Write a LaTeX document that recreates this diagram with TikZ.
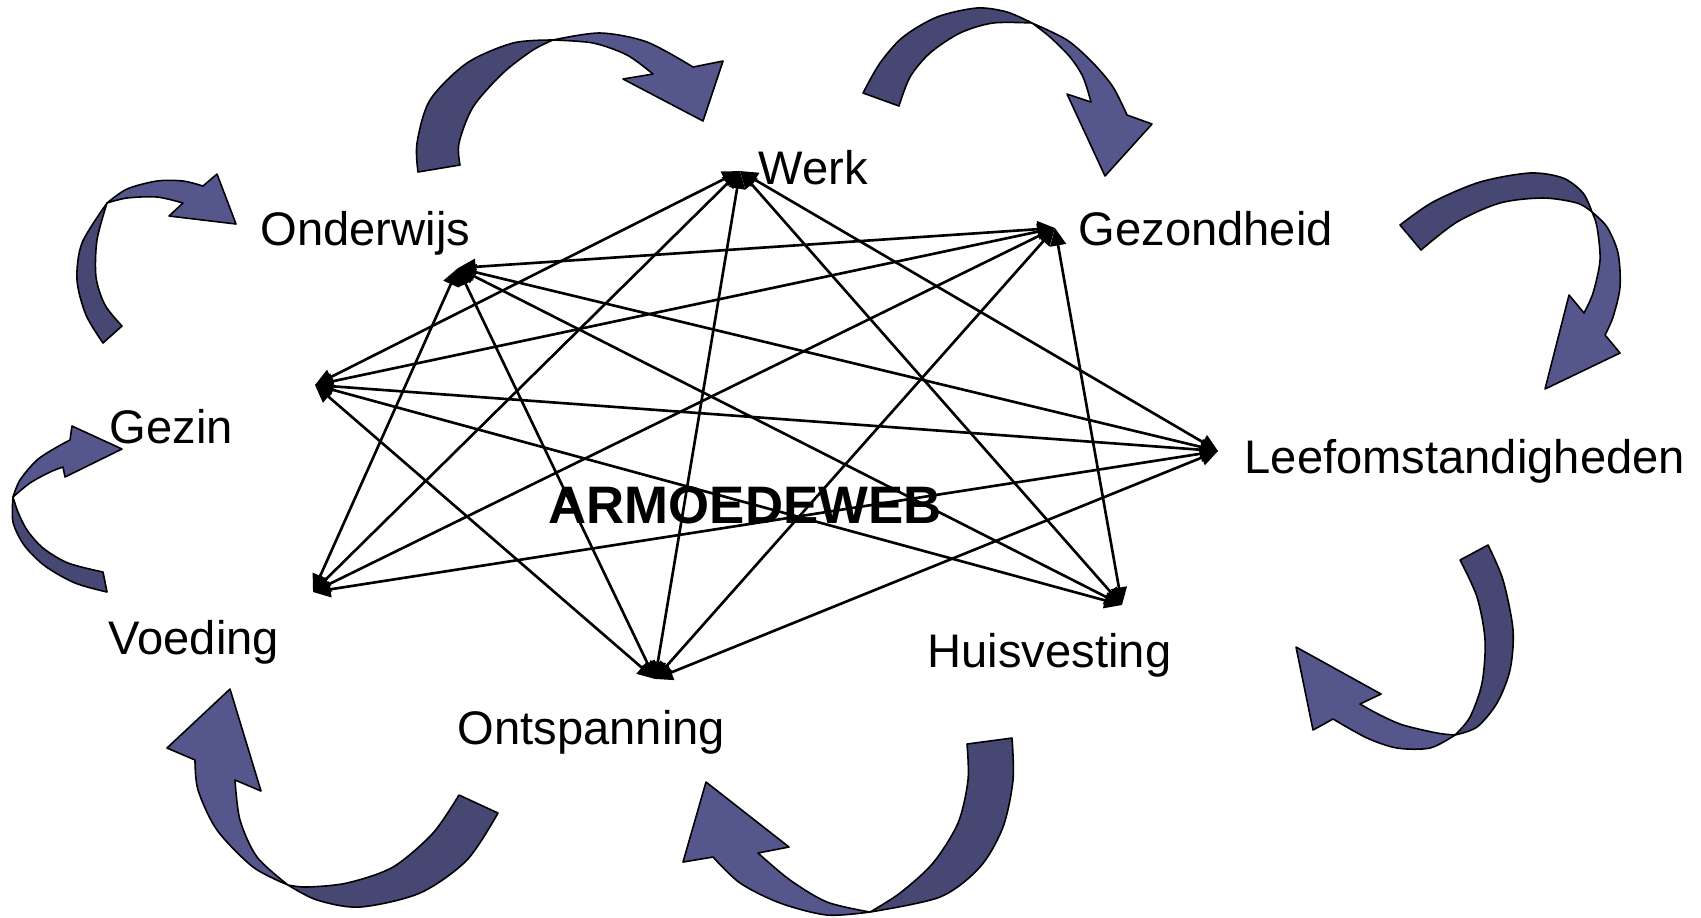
\documentclass[tikz,border=0pt]{standalone}
\usepackage{fontspec}
\setmainfont{Liberation Sans}
\usepackage{tikz}
\usetikzlibrary{arrows.meta}

\definecolor{backblue}{RGB}{70,72,115}
\definecolor{frontblue}{RGB}{85,87,140}

% one twisted ribbon arrow: back part, then front part with the head
\newcommand{\twistarrow}[5]{%
  \filldraw[backpart] plot[smooth] coordinates {#1} -- plot[smooth] coordinates {#2} -- cycle;
  \filldraw[frontpart] plot[smooth] coordinates {#3} -- #4 -- plot[smooth] coordinates {#5} -- cycle;
}

\begin{document}
\begin{tikzpicture}[x=0.01cm, y=-0.01cm,
    backpart/.style={fill=backblue, draw=black, line width=0.45pt, line join=round},
    frontpart/.style={fill=frontblue, draw=black, line width=0.45pt, line join=round},
    link/.style={<->, >={Triangle[length=5pt,width=4.5pt]}, line width=0.75pt},
    lbl/.style={font=\fontsize{13.4}{16}\selectfont, anchor=base west, inner sep=0pt},
    title/.style={font=\fontsize{15}{18}\selectfont\bfseries, anchor=base, inner sep=0pt}]
        \useasboundingbox (0,0) rectangle (1701,917);

        % points of the web
        \coordinate (w) at (740,171);
        \coordinate (gz) at (1055,228);
        \coordinate (o) at (458,268);
        \coordinate (gi) at (315,385);
        \coordinate (l) at (1218,451);
        \coordinate (v) at (313,592);
        \coordinate (h) at (1122,605);
        \coordinate (os) at (655,679);

        % labels
        \node[lbl] (werk) at (758,184) {Werk};
        \node[lbl] (gezondheid) at (1078,245) {Gezondheid};
        \node[lbl] (onderwijs) at (260,245) {Onderwijs};
        \node[lbl] (gezin) at (109,443) {Gezin};
        \node[lbl] (leef) at (1244,473) {Leefomstandigheden};
        \node[lbl] (voeding) at (108,654) {Voeding};
        \node[lbl] (huis) at (927,667) {Huisvesting};
        \node[lbl] (ontsp) at (457,744) {Ontspanning};

        % the web
        \draw[link] (w) -- (gi);
        \draw[link] (w) -- (v);
        \draw[link] (w) -- (os);
        \draw[link] (w) -- (h);
        \draw[link] (w) -- (l);
        \draw[link] (gz) -- (o);
        \draw[link] (gz) -- (gi);
        \draw[link] (gz) -- (v);
        \draw[link] (gz) -- (os);
        \draw[link] (gz) -- (h);
        \draw[link] (o) -- (l);
        \draw[link] (o) -- (h);
        \draw[link] (o) -- (v);
        \draw[link] (o) -- (os);
        \draw[link] (gi) -- (l);
        \draw[link] (gi) -- (h);
        \draw[link] (gi) -- (os);
        \draw[link] (v) -- (l);
        \draw[link] (l) -- (os);

        \node[title] (web) at (745,523) {ARMOEDEWEB};

        % big arrows round the web
        % onderwijs -> werk
        \twistarrow{(418,172) (417,143) (430,100) (467,63) (513,43) (553,40)}
                   {(553,40) (533,50) (503,73) (473,107) (459,143) (460,165)}
                   {(553,40) (600,33) (647,42) (693,67)}
                   {(723,61) -- (703,121) -- (623,79)}
                   {(653,74) (627,55) (593,43) (553,40)}
        % werk -> gezondheid
        \twistarrow{(863,93) (880,63) (903,37) (937,17) (977,8) (1007,12) (1032,23)}
                   {(1032,23) (993,23) (960,33) (930,53) (910,77) (899,106)}
                   {(1032,23) (1067,40) (1093,63) (1113,87) (1127,115)}
                   {(1152,124) -- (1105,176) -- (1067,94)}
                   {(1091,102) (1083,77) (1070,57) (1050,37) (1032,23)}
        % gezondheid -> leefomstandigheden
        \twistarrow{(1400,225) (1433,202) (1480,182) (1530,173) (1563,178) (1583,193) (1592,212)}
                   {(1592,212) (1577,203) (1543,198) (1500,203) (1457,222) (1421,250)}
                   {(1592,212) (1607,227) (1618,253) (1620,287) (1613,317) (1605,335)}
                   {(1620,353) -- (1545,389) -- (1569,295)}
                   {(1584,313) (1593,293) (1600,260) (1597,227) (1592,212)}
        % leefomstandigheden -> huisvesting
        \twistarrow{(1488,545) (1503,580) (1513,630) (1510,670) (1497,703) (1477,727) (1455,735)}
                   {(1455,735) (1470,717) (1482,683) (1485,640) (1477,597) (1460,560)}
                   {(1455,735) (1430,748) (1397,748) (1367,738) (1333,719)}
                   {(1313,730) -- (1296,647) -- (1381,694)}
                   {(1360,704) (1380,715) (1403,725) (1437,733) (1455,735)}
        % huisvesting -> ontspanning
        \twistarrow{(1012,738) (1013,780) (1003,827) (980,867) (940,897) (870,912)}
                   {(870,912) (900,893) (933,863) (958,823) (968,780) (967,744)}
                   {(870,912) (827,915) (780,903) (740,883) (713,857)}
                   {(683,862) -- (706,782) -- (789,847)}
                   {(758,853) (790,880) (827,902) (870,912)}
        % ontspanning -> voeding
        \twistarrow{(498,813) (467,860) (420,893) (360,907) (317,900) (288,885)}
                   {(288,885) (307,887) (347,883) (393,867) (433,833) (459,795)}
                   {(288,885) (253,867) (217,830) (198,790) (195,760)}
                   {(167,748) -- (230,689) -- (261,791)}
                   {(235,780) (240,820) (257,857) (288,885)}
        % voeding -> gezin
        \twistarrow{(107,592) (75,583) (45,566) (24,545) (13,522) (13,497)}
                   {(13,497) (18,512) (27,530) (43,548) (68,563) (103,572)}
                   {(13,497) (20,480) (37,460) (57,447) (70,440)}
                   {(72,426) -- (122,449) -- (65,477)}
                   {(63,467) (50,472) (30,483) (13,497)}
        % gezin -> onderwijs
        \twistarrow{(103,343) (86,315) (77,280) (82,243) (107,203)}
                   {(107,203) (97,240) (96,277) (105,305) (122,326)}
                   {(107,203) (127,189) (157,181) (183,181) (203,186)}
                   {(217,174) -- (236,224) -- (169,216)}
                   {(183,203) (157,197) (127,198) (107,203)}
    \end{tikzpicture}
\end{document}
